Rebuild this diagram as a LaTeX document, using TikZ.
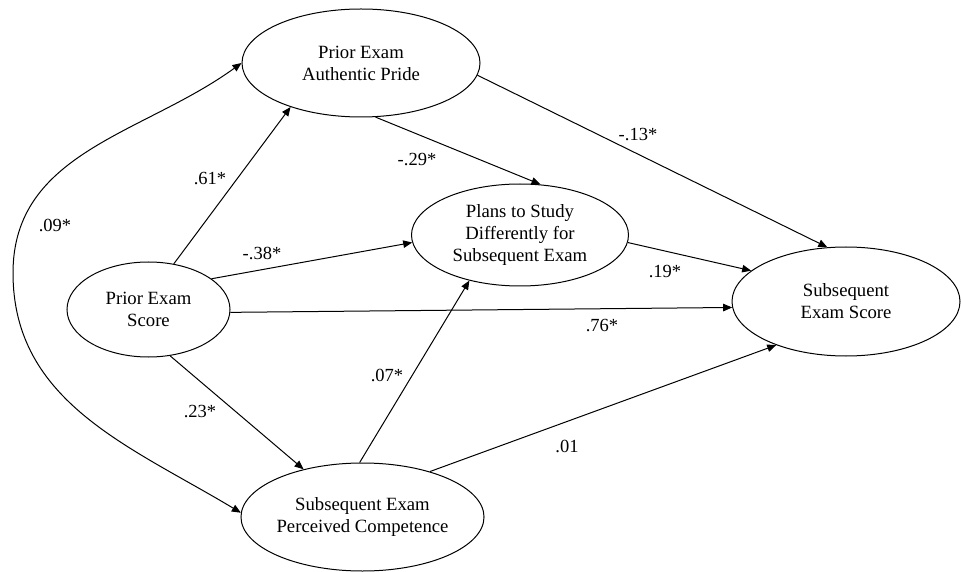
\documentclass[tikz,border=0pt]{standalone}
\usepackage{fontspec}
\setmainfont{Liberation Serif}
\usetikzlibrary{shapes.geometric,arrows.meta}
\begin{document}
\begin{tikzpicture}[x=1pt,y=1pt,
  latent/.style={ellipse,draw,line width=1pt,inner sep=0pt,align=center,
    font=\fontsize{18.7}{22}\selectfont},
  path/.style={line width=1pt,-{Triangle[length=9pt,width=7.5pt]}},
  coef/.style={font=\fontsize{18.5}{22}\selectfont,inner sep=0pt}]
\useasboundingbox (0,0) rectangle (961,571);
\node[latent,minimum width=238pt,minimum height=108pt] (pride) at (361,508) {Prior Exam\\Authentic Pride};
\node[latent,minimum width=163pt,minimum height=95pt] (score) at (148.5,261.5) {Prior Exam\\Score};
\node[latent,minimum width=217pt,minimum height=102pt] (plans) at (520,336) {Plans to Study\\Differently for\\Subsequent Exam};
\node[latent,minimum width=228pt,minimum height=109pt] (sub) at (846,269.5) {Subsequent\\Exam Score};
\node[latent,minimum width=241pt,minimum height=108pt] (comp) at (362.5,54) {Subsequent Exam\\Perceived Competence};
\coordinate (apex) at (13,298);
% paths
\draw[path] (score.61) -- (pride.212);
\draw[path] (score.26) -- (plans.184);
\draw[path] (score.358) -- (sub.183);
\draw[path] (score.295) -- (comp.141);
\draw[path] (pride.285) -- (plans.68);
\draw[path] (pride.354) -- (sub.109);
\draw[path] (plans.356) -- (sub.162);
\draw[path] (comp.93) -- (plans.222);
\draw[path] (comp.34) -- (sub.212);
\draw[line width=1pt,{Triangle[length=9pt,width=7.5pt]}-{Triangle[length=9pt,width=7.5pt]}]
  (pride.180) to[out=216,in=90] (apex) to[out=270,in=149] (comp.178);
% coefficients
\node[coef] (c61) at (210,392) {.61*};
\node[coef] (c09) at (55,346) {.09*};
\node[coef] (c38) at (262,318) {-.38*};
\node[coef] (c23) at (200,159) {.23*};
\node[coef] (c29) at (417,411) {-.29*};
\node[coef] (c13) at (638,436) {-.13*};
\node[coef] (c19) at (665,299) {.19*};
\node[coef] (c76) at (602,245) {.76*};
\node[coef] (c07) at (387,196) {.07*};
\node[coef] (c01) at (567,125) {.01};
\end{tikzpicture}
\end{document}
